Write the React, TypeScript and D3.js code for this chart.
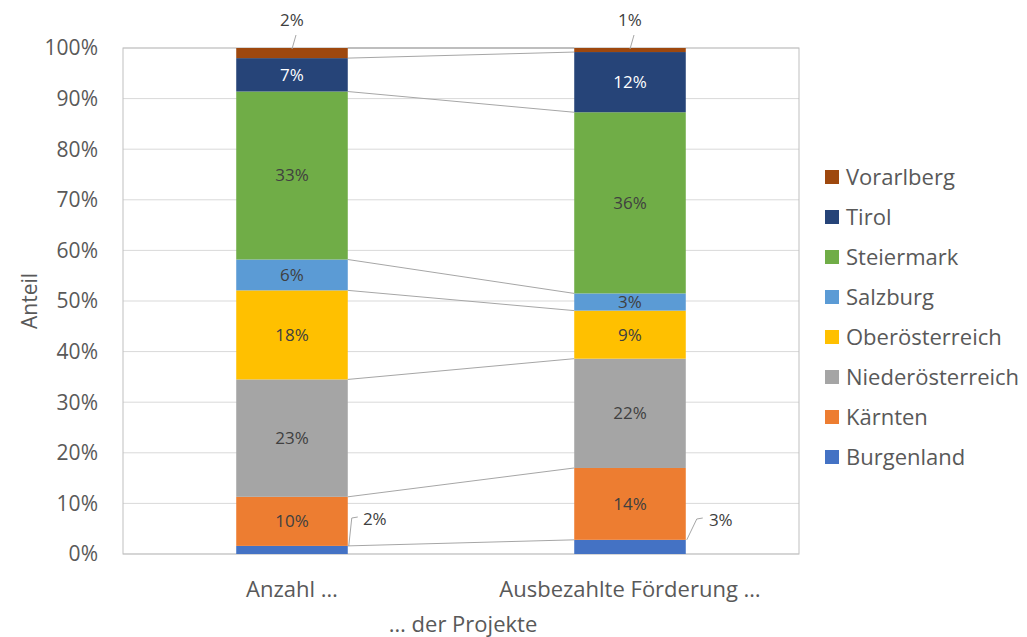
import React from 'react';
import * as d3 from 'd3';

const categories = ['Anzahl …', 'Ausbezahlte Förderung …'];
const regions = ['Burgenland', 'Kärnten', 'Niederösterreich', 'Oberösterreich', 'Salzburg', 'Steiermark', 'Tirol', 'Vorarlberg'];
const anzahl = [1.6, 9.7, 23.2, 17.6, 6.1, 33.2, 6.6, 2.0];
const foerderung = [2.8, 14.2, 21.6, 9.5, 3.4, 35.8, 11.9, 0.8];
const labelsAnzahl = ['2%', '10%', '23%', '18%', '6%', '33%', '7%', '2%'];
const labelsFoerderung = ['3%', '14%', '22%', '9%', '3%', '36%', '12%', '1%'];
const colors = ['#4472C4', '#ED7D31', '#A5A5A5', '#FFC000', '#5B9BD5', '#70AD47', '#264478', '#9E480E'];
const yTicks = [0, 10, 20, 30, 40, 50, 60, 70, 80, 90, 100];

const W = 1027;
const H = 637;
const margin = { left: 123, right: 228, top: 48, bottom: 83 };
const font = '"Open Sans", sans-serif';

export default function App() {
  const x = d3.scaleBand().domain(categories).range([margin.left, W - margin.right]).paddingInner(0.67).paddingOuter(0.335);
  const y = d3.scaleLinear().domain([0, 100]).range([H - margin.bottom, margin.top]);

  const rows = categories.map((c, i) => {
    const vals = i === 0 ? anzahl : foerderung;
    const r: Record<string, number | string> = { cat: c };
    regions.forEach((reg, j) => (r[reg] = vals[j]));
    return r;
  });
  const series = d3.stack<any>().keys(regions)(rows);
  const labels = [labelsAnzahl, labelsFoerderung];
  const bw = x.bandwidth();

  return (
    <svg width={W} height={H} style={{ position: 'absolute', left: 0, top: 0, background: '#fff' }} fontFamily={font}>
      {yTicks.map(t => (
        <g key={t}>
          <line x1={margin.left} x2={W - margin.right} y1={y(t)} y2={y(t)} stroke="#d9d9d9" strokeWidth={1} />
          <text x={98} y={y(t)} dy="0.35em" textAnchor="end" fontSize={21} fill="#595959">{t}%</text>
        </g>
      ))}
      <rect x={margin.left} y={margin.top} width={W - margin.left - margin.right} height={y(0) - y(100)} fill="none" stroke="#bfbfbf" strokeWidth={1} />

      {/* series lines between bars */}
      {series.map((s, j) => (
        <line key={'sl' + j}
          x1={x(categories[0])! + bw} y1={y(s[0][1])}
          x2={x(categories[1])!} y2={y(s[1][1])}
          stroke="#a6a6a6" strokeWidth={1} />
      ))}

      {series.map((s, j) => (
        <g key={regions[j]}>
          {s.map((d, i) => (
            <rect key={i} x={x(categories[i])} y={y(d[1])} width={bw} height={y(d[0]) - y(d[1])} fill={colors[j]} />
          ))}
        </g>
      ))}

      {/* labels inside segments */}
      {series.map((s, j) => s.map((d, i) => {
        if (j === 0 || j === regions.length - 1) return null;
        return (
          <text key={'l' + j + i} x={x(categories[i])! + bw / 2} y={y((d[0] + d[1]) / 2)} dy="0.35em"
            textAnchor="middle" fontSize={17} fill={j === 6 ? '#ffffff' : '#404040'}>{labels[i][j]}</text>
        );
      }))}

      {/* Vorarlberg labels above bars */}
      {categories.map((c, i) => {
        const cx = x(c)! + bw / 2;
        const top = series[regions.length - 1][i][1];
        return (
          <g key={'top' + i}>
            <line x1={cx} y1={y(top) + 1} x2={cx + 4} y2={y(top) - 13} stroke="#a6a6a6" strokeWidth={1} />
            <text x={cx} y={20} dy="0.35em" textAnchor="middle" fontSize={17} fill="#404040">{labels[i][regions.length - 1]}</text>
          </g>
        );
      })}

      {/* Burgenland labels to the right with leader lines */}
      {categories.map((c, i) => {
        const bx = x(c)! + bw;
        const d = series[0][i];
        const my = y(d[1]);
        const ly = i === 0 ? 518 : 519;
        return (
          <g key={'bot' + i}>
            <polyline points={`${bx + 1},${my} ${bx + (i === 0 ? 4 : 11)},${ly} ${bx + (i === 0 ? 10 : 17)},${ly - 1}`} fill="none" stroke="#a6a6a6" strokeWidth={1} />
            <text x={bx + (i === 0 ? 27 : 35)} y={ly + 1} dy="0.35em" textAnchor="middle" fontSize={17} fill="#404040">{labels[i][0]}</text>
          </g>
        );
      })}

      {categories.map(c => (
        <text key={c} x={x(c)! + bw / 2} y={589} dy="0.35em" textAnchor="middle" fontSize={22} fill="#595959">{c}</text>
      ))}
      <text x={463} y={624} dy="0.35em" textAnchor="middle" fontSize={22} fill="#595959">… der Projekte</text>
      <text transform={`translate(30,${(margin.top + y(0)) / 2}) rotate(-90)`} dy="0.35em" textAnchor="middle" fontSize={21} fill="#595959">Anteil</text>

      {/* legend */}
      {regions.slice().reverse().map((r, k) => {
        const j = regions.length - 1 - k;
        const cy = 177 + k * 40;
        return (
          <g key={'lg' + r}>
            <rect x={825} y={cy - 7} width={14} height={14} fill={colors[j]} />
            <text x={846} y={cy} dy="0.35em" fontSize={22} fill="#595959">{r}</text>
          </g>
        );
      })}
    </svg>
  );
}
